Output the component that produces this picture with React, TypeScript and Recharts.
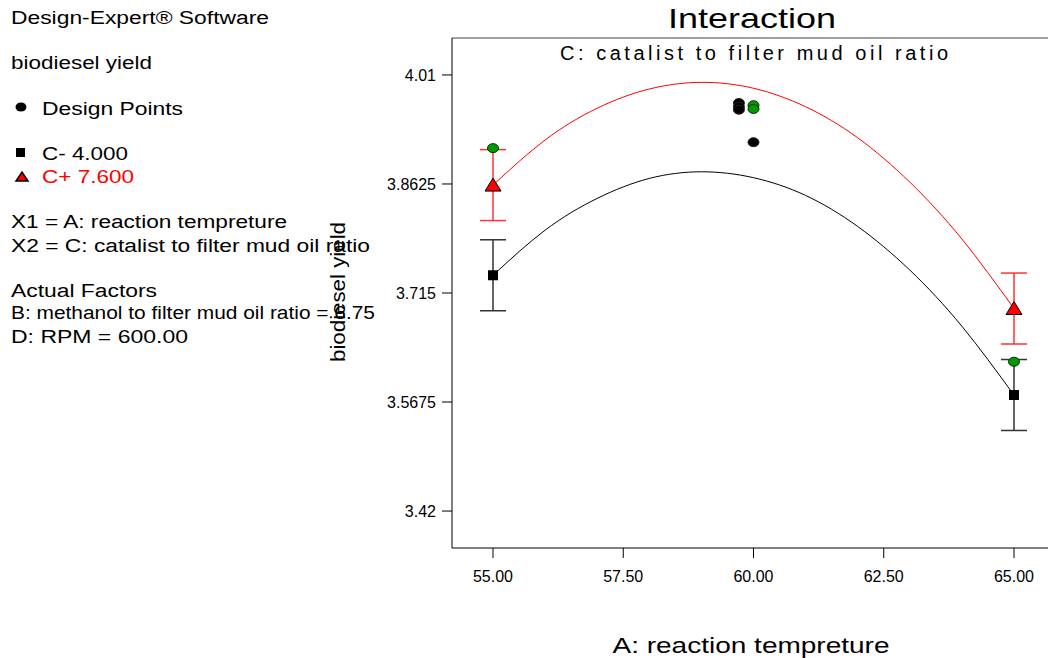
import React from 'react';
import { ComposedChart, Line, Scatter, XAxis, YAxis, ErrorBar, ReferenceLine } from 'recharts';

// factor A levels / tick labels
const tempTicks = [55, 57.5, 60, 62.5, 65];
const yieldTicks = [3.42, 3.5675, 3.715, 3.8625, 4.01];
const yDomain = [3.37, 4.06];

// model curves
const curveTemp = [55, 56, 57, 58, 59, 60, 61, 62, 63, 64, 65];
const cMinusCurve = [3.739, 3.8, 3.843, 3.87, 3.879, 3.871, 3.847, 3.805, 3.746, 3.67, 3.577];
const cPlusCurve = [3.861, 3.922, 3.965, 3.991, 4.0, 3.992, 3.967, 3.925, 3.865, 3.788, 3.694];

// predicted means at the factorial ends with LSD half-widths
const meanTemp = [55, 65];
const cMinusMean = [3.739, 3.577];
const cPlusMean = [3.861, 3.694];
const lsdHalf = [0.048, 0.048];

// design points
const greenTemp = [55, 60, 60, 65];
const greenYield = [3.911, 3.969, 3.964, 3.622];
const blackTemp = [59.72, 59.72, 59.72, 60];
const blackYield = [3.972, 3.967, 3.963, 3.919];

const FONT = "Arial, 'Liberation Sans', sans-serif";

const zip = (xs: number[], ys: number[], extra?: number[]) =>
  xs.map((x, i) => ({ x, y: ys[i], err: extra ? extra[i] : 0 }));

const Square = (p: any) => (
  <rect x={p.cx - 5} y={p.cy - 5} width={10} height={10} fill="#000" />
);
const Triangle = (p: any) => (
  <polygon
    points={`${p.cx - 8},${p.cy + 6} ${p.cx + 8},${p.cy + 6} ${p.cx},${p.cy - 7}`}
    fill="#ff0000"
    stroke="#000"
    strokeWidth={1}
  />
);
const GreenDot = (p: any) => (
  <ellipse cx={p.cx} cy={p.cy} rx={5.5} ry={4.5} fill="#009900" stroke="#003300" strokeWidth={1} />
);
const BlackDot = (p: any) => (
  <ellipse cx={p.cx} cy={p.cy} rx={5.5} ry={4.5} fill="#000" stroke="#222" strokeWidth={1} />
);

const T = ({ x, y, w, size, anchor = 'start', fill = '#000', spacing = false, children }: any) => (
  <text
    x={x}
    y={y}
    fontSize={size}
    fill={fill}
    dominantBaseline="central"
    textAnchor={anchor}
    textLength={w}
    lengthAdjust={spacing ? 'spacing' : 'spacingAndGlyphs'}
    fontFamily={FONT}
  >
    {children}
  </text>
);

const App: React.FC = () => {
  return (
    <div style={{ position: 'absolute', left: 0, top: 0, width: 1048, height: 658, overflow: 'hidden', background: '#fff', fontFamily: FONT }}>
      <ComposedChart width={1060} height={658} margin={{ top: 38, right: 5, left: 392, bottom: 70 }}>
        <XAxis
          dataKey="x"
          type="number"
          domain={[54.213, 65.787]}
          allowDataOverflow
          ticks={tempTicks}
          tickFormatter={(v: number) => v.toFixed(2)}
          tick={{ fill: '#000', fontSize: 16, fontFamily: FONT }}
          tickSize={10}
          tickMargin={13}
          height={40}
          stroke="#000"
        />
        <YAxis
          type="number"
          domain={yDomain}
          allowDataOverflow
          ticks={yieldTicks}
          tickFormatter={(v: number) => String(v)}
          tick={{ fill: '#000', fontSize: 16, fontFamily: FONT }}
          tickSize={10}
          tickMargin={6}
          width={60}
          stroke="#000"
        />
        <ReferenceLine y={yDomain[1]} stroke="#808080" strokeWidth={1.5} />
        <Line data={zip(curveTemp, cMinusCurve)} dataKey="y" type="natural" stroke="#000" strokeWidth={1} dot={false} activeDot={false} isAnimationActive={false} />
        <Line data={zip(curveTemp, cPlusCurve)} dataKey="y" type="natural" stroke="#ff0000" strokeWidth={1} dot={false} activeDot={false} isAnimationActive={false} />
        <Scatter data={zip(meanTemp, cMinusMean, lsdHalf)} dataKey="y" shape={Square} isAnimationActive={false}>
          <ErrorBar dataKey="err" direction="y" width={13} stroke="#333" strokeWidth={1.5} />
        </Scatter>
        <Scatter data={zip(meanTemp, cPlusMean, lsdHalf)} dataKey="y" shape={Triangle} isAnimationActive={false}>
          <ErrorBar dataKey="err" direction="y" width={13} stroke="#ff3333" strokeWidth={1.5} />
        </Scatter>
        <Scatter data={zip(greenTemp, greenYield)} dataKey="y" shape={GreenDot} isAnimationActive={false} />
        <Scatter data={zip(blackTemp, blackYield)} dataKey="y" shape={BlackDot} isAnimationActive={false} />
      </ComposedChart>

      <svg width={1048} height={658} style={{ position: 'absolute', left: 0, top: 0, pointerEvents: 'none' }}>
        <T x={752} y={18} w={168} size={28} anchor="middle">Interaction</T>
        <T x={754} y={53} w={388} size={20} anchor="middle" spacing>C: catalist to filter mud oil ratio</T>
        <T x={751} y={645} w={277} size={22} anchor="middle">A: reaction tempreture</T>
        <g transform="rotate(-90 338 292)">
          <T x={338} y={292} w={140} size={20} anchor="middle">biodiesel yield</T>
        </g>

        <T x={11} y={18} w={258} size={18}>Design-Expert® Software</T>
        <T x={11} y={63} w={141} size={18}>biodiesel yield</T>
        <ellipse cx={21} cy={107} rx={5.5} ry={4.5} fill="#000" />
        <T x={42} y={109} w={141} size={18}>Design Points</T>
        <rect x={16} y={148} width={9} height={9} fill="#000" />
        <T x={42} y={154} w={86} size={18}>C- 4.000</T>
        <polygon points="16,181 28,181 22,172" fill="#ff0000" stroke="#000" strokeWidth={1.5} />
        <T x={42} y={177} w={92} size={18} fill="#ff0000">C+ 7.600</T>
        <T x={11} y={222} w={276} size={18}>X1 = A: reaction tempreture</T>
        <T x={11} y={246} w={359} size={18}>X2 = C: catalist to filter mud oil ratio</T>
        <T x={11} y={291} w={146} size={18}>Actual Factors</T>
        <T x={11} y={313} w={364} size={18}>B: methanol to filter mud oil ratio = 6.75</T>
        <T x={11} y={337} w={177} size={18}>D: RPM = 600.00</T>
      </svg>
    </div>
  );
};

export default App;
